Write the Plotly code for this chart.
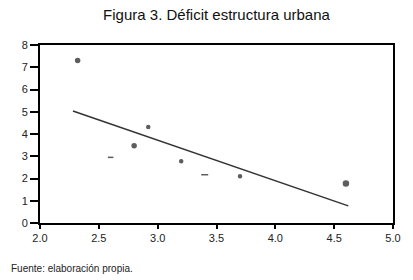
import plotly.graph_objects as go

# Scatter points (x, y)
pts_x = [2.32, 2.60, 2.80, 2.92, 3.20, 3.40, 3.70, 4.60]
pts_y = [7.30, 2.95, 3.47, 4.32, 2.78, 2.17, 2.10, 1.78]
pts_symbol = ["circle", "line-ew", "circle", "circle", "circle", "line-ew", "circle", "circle"]
pts_size = [4, 4, 4, 3, 3, 5, 3, 5]

# Fitted line endpoints
line_x = [2.28, 4.62]
line_y = [5.03, 0.77]

x_ticks = [2.0, 2.5, 3.0, 3.5, 4.0, 4.5, 5.0]
y_ticks = [0, 1, 2, 3, 4, 5, 6, 7, 8]

FONT = "Liberation Sans Narrow, Arial Narrow, Liberation Sans, Arial, sans-serif"

fig = go.Figure()
fig.add_trace(go.Scatter(x=line_x, y=line_y, mode="lines",
                         line=dict(color="#333333", width=1.5),
                         showlegend=False, hoverinfo="skip"))
fig.add_trace(go.Scatter(x=pts_x, y=pts_y, mode="markers",
                         marker=dict(symbol=pts_symbol, size=pts_size, color="#1a1a1a",
                                     line=dict(color="#1a1a1a", width=1.5)),
                         showlegend=False))

fig.update_layout(
    width=413, height=280,
    margin=dict(l=40, r=13, t=45, b=57),
    paper_bgcolor="white", plot_bgcolor="white",
    title=dict(text="Figura 3. Déficit estructura urbana", x=0.5, xref="paper",
               xanchor="center", y=1 - 15 / 280, yanchor="middle",
               font=dict(family=FONT, size=15, color="#111111")),
    font=dict(family="Liberation Sans, Arial, sans-serif", size=11, color="#222222"),
    xaxis=dict(range=[2, 5], tickvals=x_ticks, ticktext=[f"{v:.1f}" for v in x_ticks],
               showgrid=False, zeroline=False, showline=True, linecolor="black",
               linewidth=2, mirror=True, ticks="outside", ticklen=4, tickwidth=2,
               tickcolor="black", tickfont=dict(size=11)),
    yaxis=dict(range=[0, 8], tickvals=y_ticks, showgrid=False, zeroline=False,
               showline=True, linecolor="black", linewidth=2, mirror=True,
               ticks="outside", ticklen=8, tickwidth=2, tickcolor="black",
               tickfont=dict(size=11)),
    annotations=[dict(text="Fuente: elaboración propia.", xref="paper", yref="paper",
                      x=-32 / 360, y=-(268 - 223) / 178, xanchor="left", yanchor="middle",
                      showarrow=False, font=dict(size=10, color="#222222"))],
)

fig.write_html("out.html", config={"displayModeBar": False},
               post_script="document.body.style.margin='0';document.body.style.padding='0';")
